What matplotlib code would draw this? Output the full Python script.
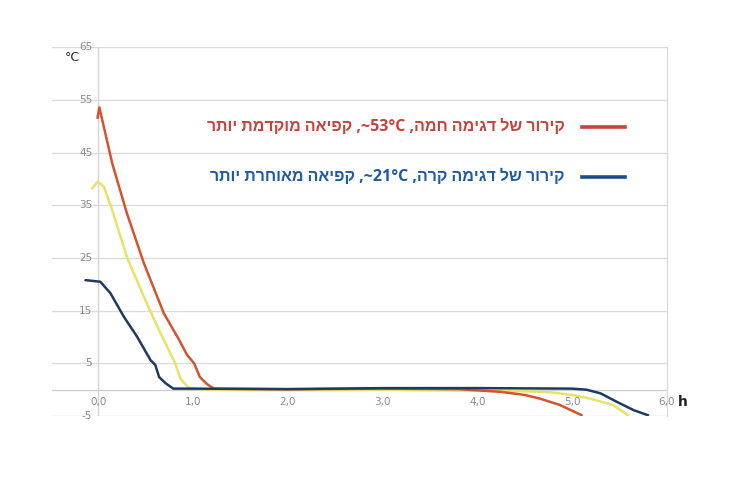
import re
import matplotlib
matplotlib.use("Agg")
import matplotlib.pyplot as plt

# curves (h, degC)
red_x = [-0.01, 0.01, 0.145, 0.30, 0.48, 0.69, 0.85, 0.935, 1.01, 1.07, 1.15, 1.22,
         2.0, 3.0, 3.8, 4.24, 4.5, 4.66, 4.87, 5.10]
red_y = [51.6, 53.6, 43.0, 33.5, 24.0, 14.5, 9.5, 6.6, 5.0, 2.4, 1.0, 0.2,
         0.1, 0.2, 0.1, -0.4, -1.0, -1.7, -2.9, -4.85]

yellow_x = [-0.066, -0.01, 0.056, 0.145, 0.30, 0.48, 0.64, 0.81, 0.865, 0.93, 0.97, 1.2,
            2.0, 3.0, 4.0, 4.5, 4.77, 5.0, 5.19, 5.43, 5.59]
yellow_y = [38.2, 39.5, 38.6, 34.1, 25.2, 17.6, 11.3, 5.0, 2.1, 0.8, 0.2, 0.0,
            -0.1, 0.0, -0.2, -0.3, -0.5, -1.0, -1.7, -2.9, -4.85]

blue_x = [-0.137, 0.02, 0.127, 0.27, 0.41, 0.55, 0.60, 0.64, 0.71, 0.79, 1.0,
          2.0, 3.0, 4.0, 5.0, 5.15, 5.30, 5.47, 5.65, 5.80]
blue_y = [20.8, 20.5, 18.3, 13.8, 10.0, 5.6, 4.7, 2.4, 1.2, 0.2, 0.2,
          0.1, 0.3, 0.3, 0.2, 0.0, -0.7, -2.3, -3.9, -4.85]

x_ticks = [0, 1, 2, 3, 4, 5, 6]
x_labels = ["0,0", "1,0", "2,0", "3,0", "4,0", "5,0", "6,0"]
y_ticks = [-5, 5, 15, 25, 35, 45, 55, 65]

legend_red = "קירור של דגימה חמה, ~53°C, קפיאה מוקדמת יותר"
legend_blue = "קירור של דגימה קרה, ~21°C, קפיאה מאוחרת יותר"


def rtl(s):
    # matplotlib has no bidi: flip the string, then put latin/number runs back
    r = s[::-1]
    return re.sub(r"[A-Za-z0-9°~.]+", lambda m: m.group(0)[::-1], r)


hebrew_font = ["Open Sans", "Liberation Sans", "DejaVu Sans"]

fig = plt.figure(figsize=(7.4, 4.8), dpi=100)
ax = fig.add_axes([0.0703, 0.1333, 0.831, 0.768])
ax.set_xlim(-0.49, 6.0)
ax.set_ylim(-5, 65)

for s in ["top", "left", "bottom"]:
    ax.spines[s].set_visible(False)
ax.spines["right"].set_color("#d6d6d6")
ax.set_xticks([])
ax.set_yticks([])

for v in y_ticks:
    ax.axhline(v, color="#dcdcdc", lw=1.0, zorder=0)
ax.axhline(0, color="#cfcfcf", lw=1.0, zorder=0)
ax.axvline(0, color="#d6d6d6", lw=1.0, zorder=0)

ax.plot(yellow_x, yellow_y, color="#e8e26a", lw=1.8, solid_capstyle="round")
ax.plot(red_x, red_y, color="#d5532f", lw=1.8, solid_capstyle="round")
ax.plot(blue_x, blue_y, color="#1d3b60", lw=1.8, solid_capstyle="round")

for v in y_ticks:
    ax.text(-0.065, v, str(v), ha="right", va="center", fontsize=7.5, color="#8a8a8a")
for v, lab in zip(x_ticks, x_labels):
    ax.text(v, -2.4, lab, ha="center", va="center", fontsize=7.5, color="#8a8a8a")

ax.text(6.11, -2.3, "h", ha="left", va="center", fontsize=10, fontweight="bold",
        color="#222222", clip_on=False)
ax.text(-0.28, 63.1, "°C", ha="center", va="center", fontsize=9, color="#222222")

# legend
ax.plot([0.862, 0.932], [0.784, 0.784], transform=ax.transAxes, color="#c8413a", lw=2.6)
ax.plot([0.862, 0.932], [0.649, 0.649], transform=ax.transAxes, color="#1a4f8f", lw=2.6)
ax.text(0.834, 0.784, rtl(legend_red), transform=ax.transAxes, ha="right", va="center",
        fontsize=11.5, fontweight="bold", color="#c8413a", family=hebrew_font)
ax.text(0.834, 0.649, rtl(legend_blue), transform=ax.transAxes, ha="right", va="center",
        fontsize=11.5, fontweight="bold", color="#1f5aa0", family=hebrew_font)

fig.savefig("out.png", dpi=100, facecolor="white")
